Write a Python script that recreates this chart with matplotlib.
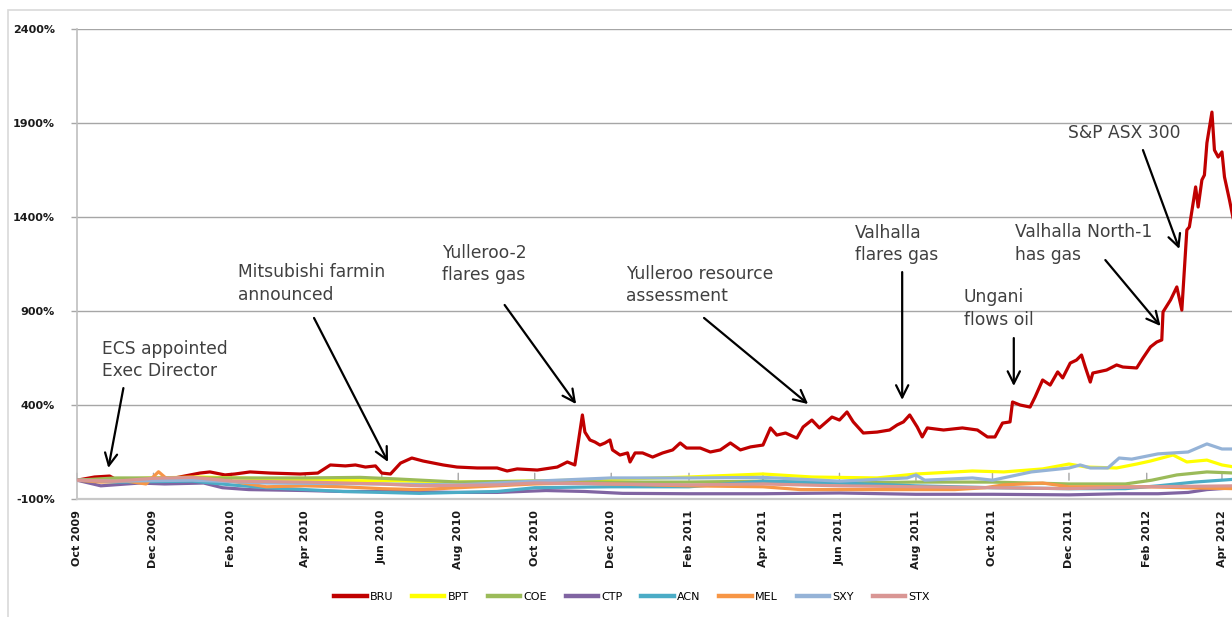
import matplotlib
matplotlib.use("Agg")
import matplotlib.pyplot as plt
import matplotlib.dates as mdates
import matplotlib.ticker as mticker
from matplotlib.patches import Rectangle
import pandas as pd

# ---------------- data ----------------
bru_dates = ["2009-10-01","2009-10-15","2009-10-27","2009-11-02","2009-11-28","2009-12-18","2010-01-07","2010-01-15",
             "2010-01-27","2010-02-04","2010-02-16","2010-03-04","2010-03-28","2010-04-11","2010-04-21","2010-05-03",
             "2010-05-11","2010-05-19","2010-05-27","2010-06-01","2010-06-08","2010-06-16","2010-06-25","2010-07-04",
             "2010-07-20","2010-07-31","2010-08-16","2010-09-01","2010-09-09","2010-09-17","2010-10-03","2010-10-19",
             "2010-10-27","2010-11-02","2010-11-08","2010-11-10","2010-11-14","2010-11-18","2010-11-22","2010-11-26",
             "2010-11-30","2010-12-02","2010-12-08","2010-12-14","2010-12-16","2010-12-20","2010-12-26","2011-01-03",
             "2011-01-11","2011-01-19","2011-01-25","2011-01-30","2011-02-10","2011-02-18","2011-02-26","2011-03-06",
             "2011-03-14","2011-03-22","2011-04-01","2011-04-07","2011-04-12","2011-04-19","2011-04-28","2011-05-03",
             "2011-05-10","2011-05-16","2011-05-26","2011-06-01","2011-06-07","2011-06-12","2011-06-20","2011-07-01",
             "2011-07-11","2011-07-17","2011-07-22","2011-07-27","2011-08-02","2011-08-06","2011-08-10","2011-08-23",
             "2011-09-07","2011-09-19","2011-09-27","2011-10-03","2011-10-09","2011-10-15","2011-10-17","2011-10-23",
             "2011-10-31","2011-11-04","2011-11-10","2011-11-16","2011-11-22","2011-11-26","2011-12-02","2011-12-07",
             "2011-12-11","2011-12-14","2011-12-18","2011-12-20","2011-12-31","2012-01-08","2012-01-13","2012-01-24",
             "2012-01-29","2012-02-04","2012-02-09","2012-02-13","2012-02-14","2012-02-20","2012-02-25","2012-02-29",
             "2012-03-04","2012-03-06","2012-03-09","2012-03-11","2012-03-13","2012-03-16","2012-03-18","2012-03-20",
             "2012-03-24","2012-03-26","2012-03-29","2012-04-01","2012-04-03","2012-04-07","2012-04-11"]
bru_vals = [0, 17, 22, 1, 1, 12, 38, 44,
            28, 33, 44, 38, 33, 38, 81, 76,
            81, 70, 76, 38, 33, 91, 118, 102,
            81, 70, 65, 65, 49, 60, 54, 70,
            97, 81, 347, 256, 214, 203, 187, 198,
            214, 161, 134, 145, 97, 145, 145, 123,
            145, 161, 198, 171, 171, 150, 161, 198,
            161, 177, 187, 278, 240, 251, 224, 283,
            320, 278, 336, 320, 363, 310, 251, 256,
            267, 294, 310, 347, 283, 230, 278, 267,
            278, 267, 230, 230, 304, 310, 416, 400,
            389, 443, 533, 506, 576, 544, 623, 639,
            666, 602, 522, 570, 586, 613, 602, 597,
            650, 709, 735, 746, 895, 959, 1028, 905,
            1331, 1347, 1474, 1560, 1453, 1597, 1623, 1794,
            1958, 1756, 1719, 1746, 1613, 1490, 1357]

bpt_dates = ["2009-10-01","2009-11-01","2009-12-01","2010-01-07","2010-02-15","2010-03-28","2010-05-01","2010-06-15",
             "2010-08-01","2010-10-05","2010-12-10","2011-02-01","2011-04-01","2011-05-10","2011-07-01","2011-08-01",
             "2011-09-15","2011-10-10","2011-11-10","2011-12-01","2011-12-15","2012-01-08","2012-01-24","2012-02-04",
             "2012-02-22","2012-03-04","2012-03-20","2012-04-01","2012-04-11"]
bpt_vals = [0, 5, 12, 17, 10, 1, -2, -4, -10, -4, 6, 17, 33, 17, 12, 33,
            49, 44, 60, 86, 70, 65, 86, 102, 134, 97, 107, 81, 70]

coe_dates = ["2009-10-01","2009-11-01","2010-01-01","2010-04-01","2010-05-15","2010-06-15","2010-08-01","2010-10-01",
             "2010-12-01","2011-02-01","2011-04-01","2011-06-01","2011-08-01","2011-10-01","2011-12-01","2012-01-15",
             "2012-02-05","2012-02-25","2012-03-20","2012-04-11"]
coe_vals = [0, 12, 12, 12, 15, 6, -10, -5, -10, -10, -5, -15, -10, -10, -20, -20, 0, 28, 44, 38]

ctp_dates = ["2009-10-01","2009-10-20","2009-11-20","2009-12-10","2010-01-10","2010-01-25","2010-02-15","2010-04-01",
             "2010-05-01","2010-06-15","2010-08-01","2010-09-01","2010-10-10","2010-11-10","2010-12-10","2011-02-01",
             "2011-04-01","2011-06-01","2011-08-01","2011-10-01","2011-12-01","2012-01-10","2012-02-10","2012-03-05",
             "2012-03-20","2012-04-11"]
ctp_vals = [0, -30, -15, -20, -15, -40, -50, -55, -60, -60, -65, -65, -55, -60, -70, -72,
            -72, -68, -75, -75, -78, -72, -72, -65, -50, -40]

acn_dates = ["2009-10-01","2009-11-01","2010-01-01","2010-02-01","2010-03-01","2010-04-01","2010-05-01","2010-06-01",
             "2010-07-01","2010-09-01","2010-10-01","2010-12-01","2011-02-01","2011-04-01","2011-06-01","2011-08-01",
             "2011-09-01","2011-10-01","2011-12-01","2012-01-15","2012-02-10","2012-03-10","2012-04-11"]
acn_vals = [0, -10, -5, -25, -40, -50, -60, -65, -70, -60, -40, -35, -35, -5, -15, -30,
            -35, -40, -45, -45, -30, -10, 5]

mel_dates = ["2009-10-01","2009-10-20","2009-11-10","2009-11-25","2009-12-05","2009-12-12","2009-12-25","2010-01-10",
             "2010-02-01","2010-03-01","2010-04-01","2010-05-01","2010-06-01","2010-07-01","2010-08-01","2010-10-01",
             "2010-11-01","2010-12-01","2011-02-01","2011-04-01","2011-05-01","2011-07-01","2011-09-01","2011-09-25",
             "2011-10-10","2011-11-10","2011-12-01","2012-01-01","2012-02-01","2012-03-01","2012-04-11"]
mel_vals = [0, -10, -5, -20, 45, 5, 5, 10, -5, -35, -30, -35, -45, -50, -40, -20,
            -15, -20, -30, -35, -50, -50, -50, -40, -25, -15, -35, -35, -35, -40, -45]

sxy_dates = ["2009-10-01","2009-11-01","2010-01-01","2010-03-01","2010-06-01","2010-08-01","2010-10-01","2010-12-01",
             "2011-02-01","2011-04-01","2011-06-01","2011-07-25","2011-08-01","2011-08-08","2011-09-15","2011-10-01",
             "2011-11-01","2011-12-01","2011-12-10","2011-12-18","2012-01-01","2012-01-10","2012-01-20","2012-02-10",
             "2012-03-05","2012-03-20","2012-04-01","2012-04-11"]
sxy_vals = [0, -5, 0, -15, -20, -25, -5, 12, 12, 15, -5, 12, 28, 0, 12, 0,
            44, 65, 81, 65, 65, 118, 112, 140, 150, 193, 166, 166]

stx_dates = ["2009-10-01","2009-11-01","2009-12-01","2010-01-01","2010-02-01","2010-04-01","2010-06-01","2010-07-01",
             "2010-09-01","2010-10-01","2010-12-01","2011-02-01","2011-04-01","2011-06-01","2011-08-01","2011-10-01",
             "2011-12-01","2012-02-01","2012-04-11"]
stx_vals = [0, -5, 10, 15, -5, -10, -20, -30, -25, -15, -20, -25, -20, -30, -35, -40, -45, -35, -30]

series_names = ["BRU", "BPT", "COE", "CTP", "ACN", "MEL", "SXY", "STX"]
series_colors = ["#C00000", "#FFFF00", "#9BBB59", "#8064A2", "#4BACC6", "#F79646", "#95B3D7", "#D99694"]
series_data = [(bru_dates, bru_vals), (bpt_dates, bpt_vals), (coe_dates, coe_vals), (ctp_dates, ctp_vals),
               (acn_dates, acn_vals), (mel_dates, mel_vals), (sxy_dates, sxy_vals), (stx_dates, stx_vals)]

y_ticks = [-100, 400, 900, 1400, 1900, 2400]
x_start, x_end = "2009-10-01", "2012-04-09"

ann_labels = ["ECS appointed\nExec Director", "Mitsubishi farmin\nannounced", "Yulleroo-2\nflares gas",
              "Yulleroo resource\nassessment", "Valhalla\nflares gas", "Ungani\nflows oil",
              "Valhalla North-1\nhas gas", "S&P ASX 300"]
ann_text_at = [("2009-10-21", 639), ("2010-02-06", 1046), ("2010-07-19", 1150), ("2010-12-13", 1038),
               ("2011-06-13", 1256), ("2011-09-08", 913), ("2011-10-19", 1259), ("2011-11-30", 1847)]
ann_tail = [("2009-11-07", 490), ("2010-04-08", 863), ("2010-09-07", 932), ("2011-02-13", 863),
            ("2011-07-21", 1107), ("2011-10-18", 756), ("2011-12-30", 1171), ("2012-01-29", 1756)]
ann_tip = [("2009-10-26", 65), ("2010-06-06", 97), ("2010-11-03", 405), ("2011-05-07", 405),
           ("2011-07-21", 427), ("2011-10-18", 501), ("2012-02-12", 820), ("2012-02-27", 1230)]

# ---------------- figure ----------------
W, H = 1232, 617
fig = plt.figure(figsize=(W / 100, H / 100), dpi=100)
fig.patch.set_facecolor("white")
fig.add_artist(Rectangle((8 / W, -0.05), 1.2, 1.05 - 10 / H, transform=fig.transFigure,
                         fill=False, edgecolor="#D9D9D9", lw=1.2))

ax = fig.add_axes([77 / W, 118 / H, (W - 77) / W, 470 / H])
ax.set_facecolor("white")

T = pd.to_datetime
for (d, v), name, col in zip(series_data, series_names, series_colors):
    ax.plot(T(d), v, color=col, lw=2.3, label=name, solid_joinstyle="round", zorder=3)

ax.set_xlim(T(x_start), T(x_end))
ax.set_ylim(-100, 2400)
ax.set_yticks(y_ticks)
ax.yaxis.set_major_formatter(mticker.FuncFormatter(lambda v, p: f"{v:.0f}%"))
ax.yaxis.grid(True, color="#A6A6A6", lw=1.0, zorder=0)
ax.set_axisbelow(True)

ax.xaxis.set_major_locator(mdates.MonthLocator(bymonth=[2, 4, 6, 8, 10, 12]))
ax.xaxis.set_major_formatter(mdates.DateFormatter("%b %Y"))
ax.tick_params(axis="x", length=0, pad=8, labelsize=8, labelcolor="#1a1a1a", rotation=90)
ax.tick_params(axis="y", length=4, pad=12, labelsize=8, labelcolor="#1a1a1a", color="#A6A6A6", width=1)
for lab in ax.get_xticklabels() + ax.get_yticklabels():
    lab.set_fontweight("bold")

for s in ["top", "right"]:
    ax.spines[s].set_visible(False)
ax.spines["left"].set_color("#BFBFBF")
ax.spines["left"].set_linewidth(1.2)
ax.spines["bottom"].set_color("#C8C8C8")
ax.spines["bottom"].set_linewidth(1.6)

# small tick marks on the zero line (category axis crossing)
for t in ax.get_xticks():
    ax.annotate("", xy=(t, 0), xytext=(0, 5), textcoords="offset points",
                arrowprops=dict(arrowstyle="-", color="#A6A6A6", lw=1.0, shrinkA=0, shrinkB=0), zorder=1)

# annotations
for lab, tp, tail, tip in zip(ann_labels, ann_text_at, ann_tail, ann_tip):
    ax.text(T(tp[0]), tp[1], lab, ha="left", va="center", fontsize=12.3, color="#404040",
            linespacing=1.3, zorder=5)
    ax.annotate("", xy=(T(tip[0]), tip[1]), xytext=(T(tail[0]), tail[1]),
                arrowprops=dict(arrowstyle="->", color="black", lw=1.6, mutation_scale=22,
                                shrinkA=0, shrinkB=0), zorder=6)

handles, labels = ax.get_legend_handles_labels()
leg = fig.legend(handles, labels, loc="center", bbox_to_anchor=(632 / W, 1 - 597 / H), ncol=8,
                 frameon=False, fontsize=8, handlelength=2.9, handletextpad=0.3, columnspacing=1.7)
for ln in leg.get_lines():
    ln.set_linewidth(3.2)

fig.savefig("out.png", dpi=100, facecolor="white")
